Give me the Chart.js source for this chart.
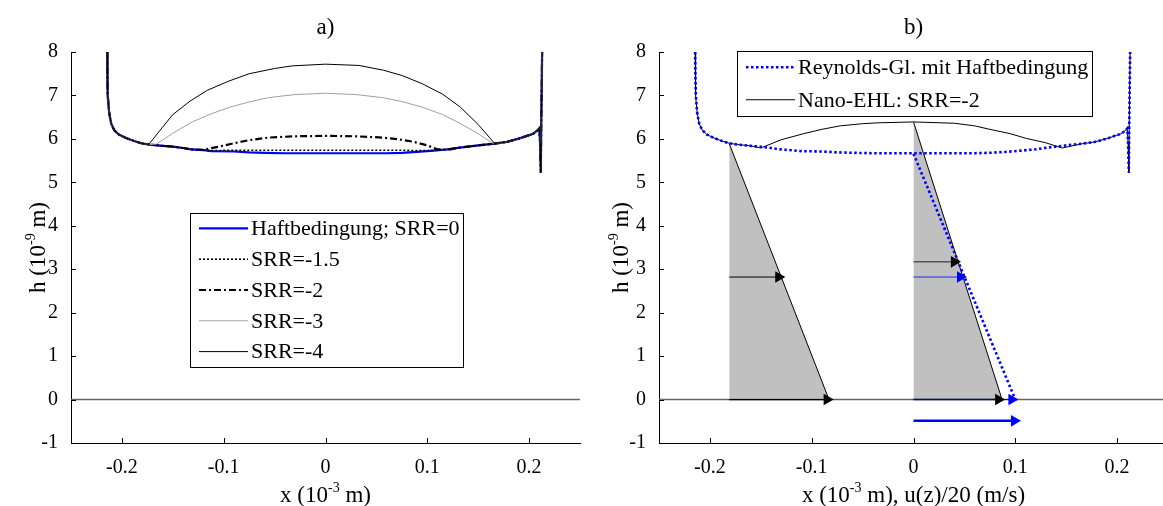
<!DOCTYPE html>
<html>
<head>
<meta charset="utf-8">
<script src="https://cdn.jsdelivr.net/npm/chart.js@4.4.1/dist/chart.umd.min.js"></script>
<style>
  html, body { margin: 0; padding: 0; background: #fff; overflow: hidden; }
  #wrap { position: relative; width: 1163px; height: 506px; overflow: hidden; }
  canvas { position: absolute; top: 0; }
  #film-a { left: 0; }
  #film-b { left: 588px; }
</style>
</head>
<body>
<div id="wrap">
  <canvas id="film-a" width="590" height="506"></canvas>
  <canvas id="film-b" width="592" height="506"></canvas>
</div>
<script>
// tick values (x in 10^-3 m, h in 10^-9 m)
const xTickValues = [-0.2, -0.1, 0, 0.1, 0.2];
const yTickValues = [-1, 0, 1, 2, 3, 4, 5, 6, 7, 8];

// shared inlet / outlet of the film profile
const xInlet = [-0.2145, -0.2143, -0.2138, -0.2125, -0.2105, -0.2075, -0.203, -0.196, -0.188, -0.181, -0.173];
const hInlet = [8.0, 7.5, 7.0, 6.6, 6.35, 6.2, 6.1, 6.02, 5.95, 5.9, 5.87];
const xOutlet = [0.166, 0.178, 0.189, 0.198, 0.204, 0.2085, 0.21, 0.2108, 0.2115, 0.212, 0.2128];
const hOutlet = [5.89, 5.93, 6.0, 6.07, 6.12, 6.2, 6.24, 5.9, 5.22, 6.5, 8.0];

// contact middle for each case
const xMid = [-0.16, -0.15, -0.14, -0.132, -0.12, -0.112, -0.09, -0.075, -0.06, -0.04, 0, 0.04, 0.06, 0.075, 0.09, 0.106, 0.12, 0.132, 0.15];
const hMidRef = [5.84, 5.82, 5.79, 5.76, 5.74, 5.72, 5.71, 5.69, 5.68, 5.67, 5.67, 5.67, 5.67, 5.68, 5.70, 5.73, 5.76, 5.80, 5.85];
const hMid15 = [5.84, 5.82, 5.79, 5.76, 5.74, 5.73, 5.74, 5.74, 5.74, 5.74, 5.74, 5.74, 5.74, 5.74, 5.73, 5.73, 5.76, 5.80, 5.85];
const xMid2 = [-0.16, -0.15, -0.14, -0.132, -0.12, -0.105, -0.09, -0.075, -0.056, -0.03, 0, 0.03, 0.056, 0.075, 0.087, 0.1, 0.11, 0.12, 0.132, 0.15];
const hMid2 = [5.84, 5.82, 5.79, 5.76, 5.75, 5.82, 5.90, 5.97, 6.03, 6.06, 6.07, 6.06, 6.03, 5.98, 5.93, 5.85, 5.76, 5.75, 5.80, 5.85];
const xMid3 = [-0.166, -0.15, -0.131, -0.112, -0.094, -0.075, -0.056, -0.03, 0, 0.03, 0.056, 0.075, 0.095, 0.115, 0.132, 0.15, 0.165];
const hMid3 = [5.88, 6.13, 6.39, 6.58, 6.73, 6.85, 6.95, 7.02, 7.05, 7.02, 6.95, 6.86, 6.73, 6.56, 6.36, 6.12, 5.89];
const xMid4 = [-0.173, -0.16, -0.15, -0.133, -0.116, -0.095, -0.075, -0.05, -0.033, 0, 0.033, 0.057, 0.075, 0.095, 0.115, 0.1325, 0.15, 0.166];
const hMid4 = [5.89, 6.27, 6.56, 6.87, 7.12, 7.33, 7.50, 7.62, 7.68, 7.72, 7.69, 7.58, 7.46, 7.27, 7.03, 6.73, 6.33, 5.90];
const xNano = [-0.16, -0.15, -0.13, -0.108, -0.09, -0.072, -0.05, -0.035, 0, 0.04, 0.06, 0.075, 0.095, 0.111, 0.13, 0.146];
const hNano = [5.84, 5.79, 5.98, 6.12, 6.22, 6.30, 6.35, 6.37, 6.39, 6.36, 6.30, 6.22, 6.12, 6.01, 5.91, 5.79];

// velocity profiles in b): triangle corners (top x, top h, bottom x)
const triTopX = [-0.181, 0];
const triTopH = [5.89, 6.39];
const triBottomX = [-0.083, 0.087];
const reynoldsProfileX = [0, 0.1];
const reynoldsProfileH = [5.66, 0];

// arrows in b)
const arrowY = [2.82, 0, 3.17, 2.82, 0, 0, -0.49];
const arrowX0 = [-0.181, -0.181, 0, 0, 0, 0, 0];
const arrowX1 = [-0.1325, -0.085, 0.040, 0.046, 0.0835, 0.0965, 0.099];

const labelsA = ['Haftbedingung; SRR=0', 'SRR=-1.5', 'SRR=-2', 'SRR=-3', 'SRR=-4'];
const labelsB = ['Reynolds-Gl. mit Haftbedingung', 'Nano-EHL: SRR=-2'];

const FONT = '"Liberation Serif", "Times New Roman", serif';
const BLUE = '#0000ff';

function toPoints(xs, hs) {
  return xs.map((x, i) => ({ x, y: hs[i] }));
}

function profile(xm, hm) {
  return toPoints(xInlet.concat(xm, xOutlet), hInlet.concat(hm, hOutlet));
}

function lineSet(label, data, color, width, dash, order) {
  return {
    label, data, order,
    borderColor: color, borderWidth: width, borderDash: dash || [],
    pointRadius: 0, fill: false, tension: 0,
  };
}

function zeroLine() {
  return {
    data: toPoints([-0.25, 0.25], [0, 0]), order: 30,
    borderColor: '#666', borderWidth: 1.5, pointRadius: 0, fill: false,
  };
}

const arrowStyles = [
  { color: '#000', head: '#000', width: 1 },
  { color: '#000', head: '#000', width: 1.2 },
  { color: '#555', head: '#000', width: 1.5 },
  { color: BLUE, head: BLUE, width: 0.8 },
  { color: '#001060', head: '#000', width: 1.5 },
  { color: BLUE, head: BLUE, width: 1 },
  { color: BLUE, head: BLUE, width: 2.5 },
];

function arrowSet(i) {
  const st = arrowStyles[i];
  return {
    data: toPoints([arrowX0[i], arrowX1[i]], [arrowY[i], arrowY[i]]),
    order: i === 5 ? 9 : 2,
    borderColor: st.color, borderWidth: st.width, fill: false,
    pointStyle: 'triangle', rotation: 90,
    pointRadius: ctx => (ctx.dataIndex === 1 ? 6.7 : 0),
    pointBackgroundColor: st.head, pointBorderColor: st.head, pointBorderWidth: 0,
  };
}

function triangleSet(i) {
  return {
    data: toPoints([triTopX[i], triBottomX[i]], [triTopH[i], 0]),
    order: 40,
    borderColor: '#000', borderWidth: 1,
    backgroundColor: '#c0c0c0', fill: 'origin', pointRadius: 0,
  };
}

function drawRich(ctx, parts, x, y, size) {
  const supSize = Math.round(size * 0.62);
  let total = 0;
  parts.forEach(p => {
    ctx.font = (p.sup ? supSize : size) + 'px ' + FONT;
    p.w = ctx.measureText(p.text).width;
    total += p.w;
  });
  let cx = x - total / 2;
  ctx.textAlign = 'left';
  ctx.textBaseline = 'alphabetic';
  parts.forEach(p => {
    ctx.font = (p.sup ? supSize : size) + 'px ' + FONT;
    ctx.fillText(p.text, cx, p.sup ? y - size * 0.42 : y);
    cx += p.w;
  });
}

const decorPlugin = {
  id: 'decor',
  afterDraw(chart, args, opts) {
    const { ctx, chartArea, scales } = chart;
    ctx.save();
    ctx.fillStyle = '#000';
    ctx.strokeStyle = '#000';
    ctx.lineWidth = 1;
    scales.y.ticks.forEach(t => {
      const y = Math.round(scales.y.getPixelForValue(t.value)) + 0.5;
      ctx.beginPath();
      ctx.moveTo(chartArea.left, y);
      ctx.lineTo(chartArea.left + 5, y);
      ctx.stroke();
    });
    scales.x.ticks.forEach(t => {
      const x = Math.round(scales.x.getPixelForValue(t.value)) + 0.5;
      ctx.beginPath();
      ctx.moveTo(x, chartArea.bottom);
      ctx.lineTo(x, chartArea.bottom - 5);
      ctx.stroke();
    });

    const midX = scales.x.getPixelForValue(0);
    drawRich(ctx, [{ text: opts.title }], midX, 34, 23);
    drawRich(ctx, opts.xTitle, midX, 502, 23);

    ctx.save();
    ctx.translate(opts.yTitleX, (chartArea.top + chartArea.bottom) / 2);
    ctx.rotate(-Math.PI / 2);
    drawRich(ctx, [{ text: 'h (10' }, { text: '-9', sup: true }, { text: ' m)' }], 0, 7, 23);
    ctx.restore();

    // legend box
    const lb = opts.legendBox;
    const entries = chart.data.datasets.filter(d => d.label);
    ctx.fillStyle = '#fff';
    ctx.fillRect(lb.left, lb.top, lb.width, lb.height);
    ctx.strokeStyle = '#000';
    ctx.lineWidth = 1;
    ctx.strokeRect(lb.left + 0.5, lb.top + 0.5, lb.width, lb.height);
    const step = lb.height / entries.length;
    entries.forEach((d, i) => {
      const y = lb.top + step * (i + 0.5);
      ctx.save();
      ctx.strokeStyle = d.borderColor;
      ctx.lineWidth = d.borderWidth;
      ctx.setLineDash(d.borderDash || []);
      ctx.beginPath();
      ctx.moveTo(lb.left + 9, y);
      ctx.lineTo(lb.left + 58, y);
      ctx.stroke();
      ctx.restore();
      ctx.fillStyle = '#000';
      ctx.font = '22px ' + FONT;
      ctx.textAlign = 'left';
      ctx.textBaseline = 'middle';
      ctx.fillText(d.label, lb.left + 61, y + 1);
    });
    ctx.restore();
  },
};

function panelOptions(padRight, decor) {
  const tickFont = { family: FONT, size: 20 };
  return {
    responsive: false,
    animation: false,
    layout: { padding: { top: 52, right: padRight, left: 0, bottom: 0 } },
    plugins: { legend: { display: false }, tooltip: { enabled: false }, decor },
    scales: {
      x: {
        type: 'linear', min: -0.25, max: 0.25,
        grid: { display: false },
        border: { display: true, color: '#000', width: 1 },
        afterBuildTicks: s => { s.ticks = xTickValues.map(v => ({ value: v })); },
        afterFit: s => { s.height = 63; },
        ticks: { font: tickFont, color: '#000', padding: 5, maxRotation: 0, callback: v => String(v) },
      },
      y: {
        type: 'linear', min: -1, max: 8,
        grid: { display: false },
        border: { display: true, color: '#000', width: 1 },
        afterBuildTicks: s => { s.ticks = yTickValues.map(v => ({ value: v })); },
        afterFit: s => { s.width = 71; },
        ticks: { font: tickFont, color: '#000', padding: 5, callback: v => String(v) },
      },
    },
  };
}

new Chart(document.getElementById('film-a'), {
  type: 'line',
  data: {
    datasets: [
      lineSet(labelsA[0], profile(xMid, hMidRef), BLUE, 2.2, [], 8),
      lineSet(labelsA[1], profile(xMid, hMid15), '#000', 1.6, [2, 2], 6),
      lineSet(labelsA[2], profile(xMid2, hMid2), '#000', 2.2, [7, 3, 2, 3], 5),
      lineSet(labelsA[3], profile(xMid3, hMid3), '#a0a0a0', 1, [], 4),
      lineSet(labelsA[4], profile(xMid4, hMid4), '#000', 1, [], 3),
      zeroLine(),
    ],
  },
  options: panelOptions(10, {
    title: 'a)',
    xTitle: [{ text: 'x (10' }, { text: '-3', sup: true }, { text: ' m)' }],
    yTitleX: 38,
    legendBox: { left: 190, top: 213, width: 273, height: 154 },
  }),
  plugins: [decorPlugin],
});

new Chart(document.getElementById('film-b'), {
  type: 'line',
  data: {
    datasets: [
      lineSet(labelsB[0], profile(xMid, hMidRef), BLUE, 2.6, [2.5, 2.5], 3),
      lineSet(labelsB[1], profile(xNano, hNano), '#000', 1, [], 4),
      lineSet('', toPoints(reynoldsProfileX, reynoldsProfileH), BLUE, 2.6, [2.5, 2.5], 3),
      triangleSet(0),
      triangleSet(1),
      zeroLine(),
      ...arrowY.map((v, i) => arrowSet(i)),
    ],
  },
  options: panelOptions(12, {
    title: 'b)',
    xTitle: [{ text: 'x (10' }, { text: '-3', sup: true }, { text: ' m), u(z)/20 (m/s)' }],
    yTitleX: 33,
    legendBox: { left: 149, top: 51, width: 355, height: 65 },
  }),
  plugins: [decorPlugin],
});
</script>
</body>
</html>
